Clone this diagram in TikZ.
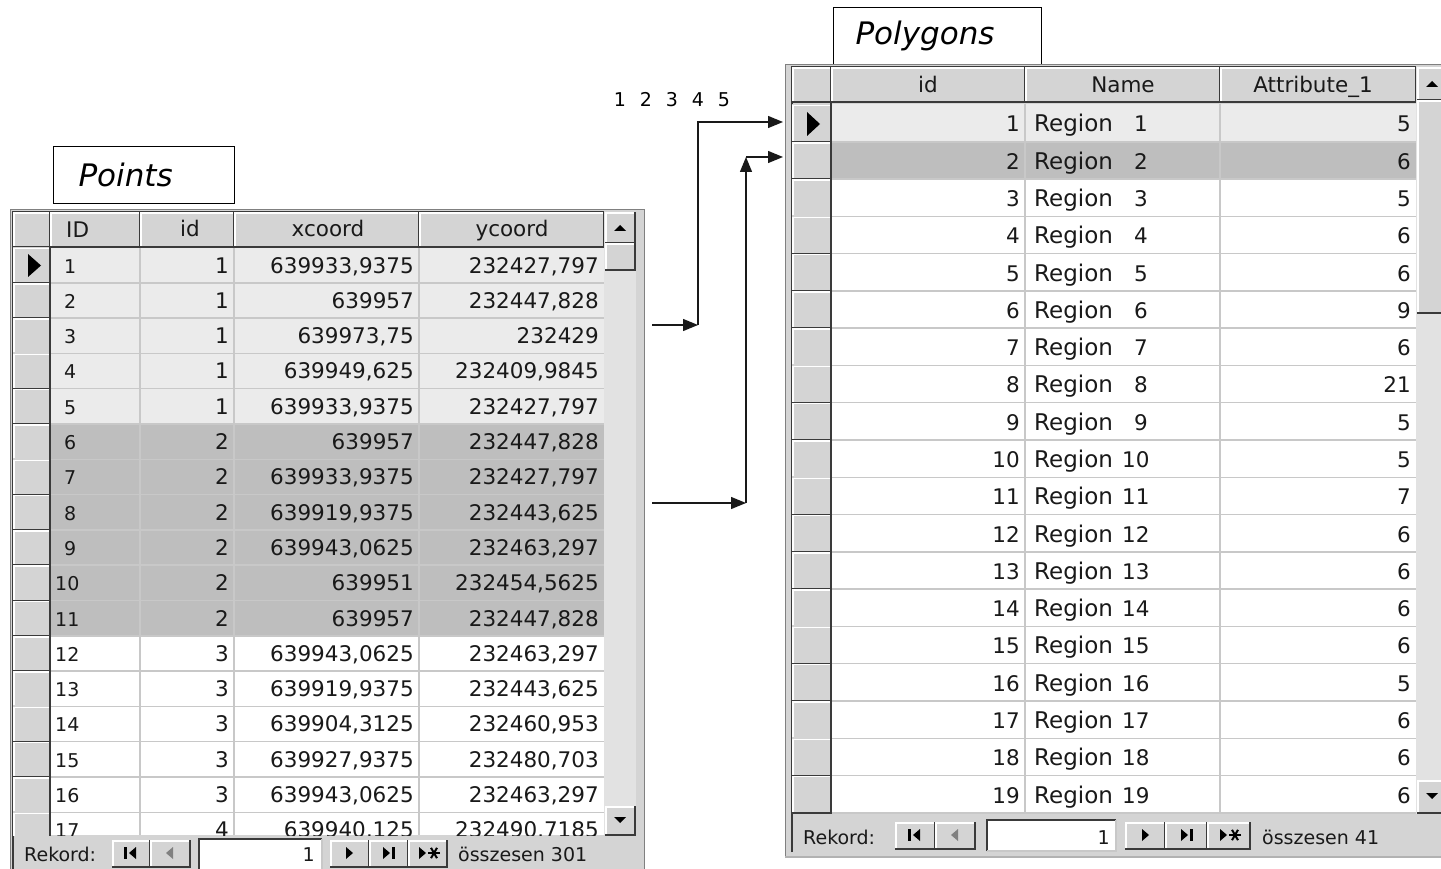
\documentclass[tikz,border=0pt]{standalone}
\usepackage{fontspec}
\setmainfont{DejaVu Sans}
\usetikzlibrary{arrows.meta,positioning}
\definecolor{panelGray}{RGB}{212,212,212}
\definecolor{rowLight}{RGB}{235,235,235}
\definecolor{rowDark}{RGB}{190,190,190}
\definecolor{gridGray}{RGB}{200,200,200}
\definecolor{trackGray}{RGB}{226,226,226}
\definecolor{edgeDark}{RGB}{58,58,58}
\definecolor{inkGray}{RGB}{25,25,25}

\tikzset{
  celltext/.style={inner sep=0pt, font=\fontsize{21.5}{21.5}\selectfont, text=inkGray},
  bartext/.style={inner sep=0pt, font=\fontsize{19}{19}\selectfont, text=inkGray},
  titlebox/.style={draw, line width=1pt, minimum height=57, align=left,
    font=\fontsize{31}{31}\selectfont\itshape},
  link/.style={line width=1.3pt, draw=inkGray, -{Triangle[length=15pt,width=12pt]}},
}

% raised and sunken boxes, corners given top left / bottom right
\newcommand{\winbutton}[4]{%
  \fill[panelGray] (#1,#2) rectangle (#3,#4);
  \draw[white, line width=1.5pt] (#1+1,#4-1) -- (#1+1,#2+1) -- (#3-1,#2+1);
  \draw[edgeDark, line width=1.5pt] (#1,#4) -- (#3,#4) -- (#3,#2);}
\newcommand{\winfield}[4]{%
  \fill[white] (#1,#2) rectangle (#3,#4);
  \draw[edgeDark, line width=2pt] (#1,#4) -- (#1,#2) -- (#3,#2);
  \draw[gridGray, line width=1.5pt] (#1,#4) -- (#3,#4) -- (#3,#2);}

% navigation glyphs, centred on (#1,#2)
\newcommand{\glyphFirst}[2]{%
  \fill (#1-7,#2-6) rectangle (#1-4,#2+6);
  \fill (#1+5,#2-6) -- (#1+5,#2+6) -- (#1-2,#2) -- cycle;}
\newcommand{\glyphPrev}[2]{%
  \fill[gray] (#1+3,#2-6) -- (#1+3,#2+6) -- (#1-4,#2) -- cycle;}
\newcommand{\glyphNext}[2]{%
  \fill (#1-3,#2-6) -- (#1-3,#2+6) -- (#1+4,#2) -- cycle;}
\newcommand{\glyphLast}[2]{%
  \fill (#1-5,#2-6) -- (#1-5,#2+6) -- (#1+2,#2) -- cycle;
  \fill (#1+4,#2-6) rectangle (#1+7,#2+6);}
\newcommand{\glyphNew}[2]{%
  \fill (#1-10,#2-6) -- (#1-10,#2+6) -- (#1-3,#2) -- cycle;
  \foreach \a in {0,60,120}
    \draw[line width=2pt] (#1+5,#2) ++(\a:6) -- ++(\a+180:12);}

\begin{document}
\begin{tikzpicture}[x=1pt,y=-1pt]
  \useasboundingbox[fill=white] (0,0) rectangle (1441,869);

  %% ================= Points table =================
  \node[titlebox, anchor=north west, text width=131, inner xsep=25] (ptsTitle) at (53,146) {Points};

  % outer frame
  \fill[panelGray] (10,209) rectangle (645,869);
  \draw[gray, line width=1pt] (10.5,869) -- (10.5,209.5) -- (644.5,209.5) -- (644.5,869);
  \draw[edgeDark, line width=1.5pt] (13,869) -- (13,212) -- (604,212);

  % header row
  \foreach \xa/\xb in {13/50,50/140,140/234,234/419,419/604}
    \winbutton{\xa}{212}{\xb}{247}
  \draw[edgeDark, line width=2pt] (13,247) -- (604,247);
  \node[celltext, anchor=base west] (hdID) at (66,238) {ID};
  \node[celltext, anchor=base] (hdid) at (190,237) {id};
  \node[celltext, anchor=base] (hdx) at (328,237) {xcoord};
  \node[celltext, anchor=base] (hdy) at (512,237) {ycoord};

  % body
  \begin{scope}
    \clip (13,248) rectangle (604,835);
    \fill[rowLight] (50,248) rectangle (604,424);
    \fill[rowDark] (50,424) rectangle (604,636);
    \fill[white] (50,636) rectangle (604,835);
    \foreach \r in {1,...,17}{
      \pgfmathsetmacro{\yt}{247.5+35.3*(\r-1)}
      \winbutton{13}{\yt}{50}{\yt+35.3}
      \draw[gridGray, line width=1.5pt] (50,\yt+35.3) -- (604,\yt+35.3);
    }
    \draw[edgeDark, line width=2pt] (50,247) -- (50,835);
    \foreach \x in {140,234,419}
      \draw[gridGray, line width=1.5pt] (\x,248) -- (\x,835);
    % current record marker
    \fill (28,254) -- (28,277) -- (41,265.5) -- cycle;
    \foreach \r/\p/\xc/\yc in {
      1/1/{639933,9375}/{232427,797}, 2/1/{639957}/{232447,828},
      3/1/{639973,75}/{232429}, 4/1/{639949,625}/{232409,9845},
      5/1/{639933,9375}/{232427,797}, 6/2/{639957}/{232447,828},
      7/2/{639933,9375}/{232427,797}, 8/2/{639919,9375}/{232443,625},
      9/2/{639943,0625}/{232463,297}, 10/2/{639951}/{232454,5625},
      11/2/{639957}/{232447,828}, 12/3/{639943,0625}/{232463,297},
      13/3/{639919,9375}/{232443,625}, 14/3/{639904,3125}/{232460,953},
      15/3/{639927,9375}/{232480,703}, 16/3/{639943,0625}/{232463,297},
      17/4/{639940,125}/{232490,7185}}{
      \pgfmathsetmacro{\yb}{265+35.3*(\r-1)+8}
      \pgfmathsetmacro{\xid}{\r<10 ? 64 : 55}
      \node[celltext, anchor=base west, font=\fontsize{19}{19}\selectfont] (pID\r) at (\xid,\yb) {\r};
      \node[celltext, anchor=base east] (pid\r) at (229,\yb) {\p};
      \node[celltext, anchor=base east] (px\r) at (414,\yb) {\xc};
      \node[celltext, anchor=base east] (py\r) at (599,\yb) {\yc};
    }
  \end{scope}

  % scrollbar
  \fill[trackGray] (604,212) rectangle (636,835);
  \winbutton{605}{212}{635}{243}
  \winbutton{605}{243}{635}{270}
  \winbutton{605}{806}{635}{835}
  \fill (614,231) -- (626,231) -- (620,225) -- cycle;
  \fill (614,817) -- (626,817) -- (620,823) -- cycle;

  % record navigator
  \fill[panelGray] (14,836) rectangle (640,869);
  \node[bartext, anchor=base west] (ptsRec) at (24,861) {Rekord:};
  \winbutton{112}{840}{150}{867}  \glyphFirst{131}{853}
  \winbutton{150}{840}{190}{867}  \glyphPrev{170}{853}
  \winfield{199}{839}{322}{870}
  \node[bartext, anchor=base east] (ptsPos) at (315,861) {1};
  \winbutton{330}{840}{369}{867}  \glyphNext{349}{853}
  \winbutton{369}{840}{408}{867}  \glyphLast{388}{853}
  \winbutton{408}{840}{447}{867}  \glyphNew{429}{853}
  \node[bartext, anchor=base west] (ptsCount) at (458,861) {összesen 301};

  %% ================= Polygons table =================
  \node[titlebox, anchor=north west, text width=164, inner xsep=22] (polTitle) at (833,7) {Polygons};

  % outer frame
  \fill[panelGray] (785,64) rectangle (1450,858);
  \draw[gray, line width=1pt] (785.5,858) -- (785.5,64.5) -- (1450,64.5);
  \draw[gray!60, line width=1.5pt] (785,857) -- (1450,857);
  \draw[edgeDark, line width=1.5pt] (792,852) -- (792,67) -- (1416,67);

  % header row
  \foreach \xa/\xb in {792/831,831/1025,1025/1220,1220/1416}
    \winbutton{\xa}{67}{\xb}{102}
  \draw[edgeDark, line width=2pt] (792,102.5) -- (1416,102.5);
  \node[celltext, anchor=base] (hdpid) at (928,93) {id};
  \node[celltext, anchor=base] (hdname) at (1123,93) {Name};
  \node[celltext, anchor=base] (hdattr) at (1313,93) {Attribute\_1};

  % body
  \begin{scope}
    \clip (792,104) rectangle (1416,814);
    \fill[white] (831,104) rectangle (1416,814);
    \fill[rowLight] (831,104) rectangle (1416,141.8);
    \fill[rowDark] (831,141.8) rectangle (1416,179.1);
    \foreach \r in {1,...,19}{
      \pgfmathsetmacro{\yt}{104.5+37.28*(\r-1)}
      \winbutton{792}{\yt}{831}{\yt+37.28}
      \draw[gridGray, line width=1.5pt] (831,\yt+37.28) -- (1416,\yt+37.28);
    }
    \draw[edgeDark, line width=2pt] (831,103) -- (831,814);
    \foreach \x in {1025,1220}
      \draw[gridGray, line width=1.5pt] (\x,104) -- (\x,814);
    % current record marker
    \fill (807,112) -- (807,136) -- (820,124) -- cycle;
    \foreach \r/\v in {1/5,2/6,3/5,4/6,5/6,6/9,7/6,8/21,9/5,10/5,
                       11/7,12/6,13/6,14/6,15/6,16/5,17/6,18/6,19/6}{
      \pgfmathsetmacro{\yb}{124+37.28*(\r-1)+8}
      \pgfmathsetmacro{\xnum}{\r<10 ? 1134 : 1122}
      \node[celltext, anchor=base east] (gid\r) at (1020,\yb) {\r};
      \node[celltext, anchor=base west, font=\fontsize{23}{23}\selectfont] (gname\r) at (1034,\yb) {Region};
      \node[celltext, anchor=base west] (gnum\r) at (\xnum,\yb) {\r};
      \node[celltext, anchor=base east] (gattr\r) at (1411,\yb) {\v};
    }
  \end{scope}

  % scrollbar
  \fill[trackGray] (1416,67) rectangle (1450,814);
  \winbutton{1417}{67}{1447}{100}
  \winbutton{1417}{100}{1447}{313}
  \winbutton{1417}{780}{1447}{813}
  \fill (1426,87) -- (1438,87) -- (1432,81) -- cycle;
  \fill (1426,793) -- (1438,793) -- (1432,799) -- cycle;

  % record navigator
  \node[bartext, anchor=base west] (polRec) at (803,844) {Rekord:};
  \winbutton{895}{822}{935}{849}  \glyphFirst{915}{835}
  \winbutton{935}{822}{975}{849}  \glyphPrev{955}{835}
  \winfield{987}{820}{1116}{851}
  \node[bartext, anchor=base east] (polPos) at (1110,844) {1};
  \winbutton{1125}{822}{1165}{849}  \glyphNext{1145}{835}
  \winbutton{1165}{822}{1207}{849}  \glyphLast{1186}{835}
  \winbutton{1207}{822}{1250}{849}  \glyphNew{1230}{835}
  \node[bartext, anchor=base west] (polCount) at (1262,844) {összesen 41};

  %% ================= links between the tables =================
  \foreach \k in {1,...,5}
    \node[celltext, font=\fontsize{19}{19}\selectfont, text=black, anchor=base] (vtx\k) at (620+26*\k-26,107) {\k};
  \coordinate (fromFirst) at (652,325);
  \coordinate (bendFirst) at (698,325);
  \coordinate (toFirst) at (783,122);
  \coordinate (fromSecond) at (652,503);
  \coordinate (bendSecond) at (746,503);
  \coordinate (topSecond) at (746,157);
  \coordinate (toSecond) at (783,157);
  \draw[link] (fromFirst) -- (bendFirst);
  \draw[link] (bendFirst) |- (toFirst);
  \draw[link] (fromSecond) -- (bendSecond);
  \draw[link] (bendSecond) -- (topSecond);
  \draw[link] (topSecond) -- (toSecond);
\end{tikzpicture}
\end{document}
